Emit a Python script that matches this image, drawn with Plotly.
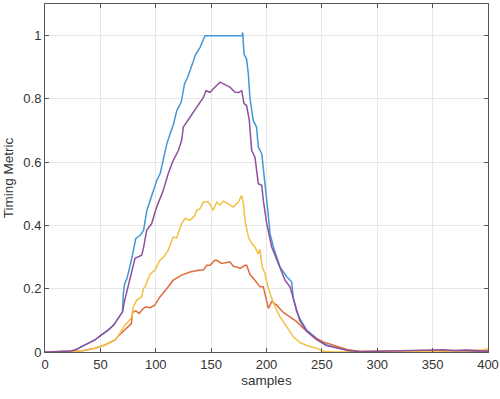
import plotly.graph_objects as go

# ---- data ----
blue_x = [0, 18, 22, 27, 36, 45, 51, 57, 62, 65, 68, 70, 70.7, 72, 74, 78, 82, 86, 89, 92, 95, 98, 101, 104, 107,
          110, 113, 116, 119, 123, 126, 129, 132, 136, 140, 142, 144.5, 150, 160, 170, 178, 178.5, 179.7, 182,
          183.6, 185, 188, 191, 192.6, 195.7, 198.6, 200.2, 201.7, 203.2, 206.2, 209.2, 212.2, 218.2, 222.7,
          224.2, 227, 230.2, 236.3, 245.3, 254.3, 266.4, 275.4, 285, 300, 320, 340, 360, 380, 400]
blue_y = [0, 0, 0.002, 0.006, 0.022, 0.038, 0.054, 0.069, 0.085, 0.101, 0.117, 0.127, 0.185, 0.217, 0.232,
          0.29, 0.359, 0.369, 0.385, 0.448, 0.48, 0.511, 0.543, 0.564, 0.616, 0.658, 0.69, 0.72, 0.763, 0.79,
          0.848, 0.87, 0.9, 0.94, 0.963, 0.98, 1.0, 1.0, 1.0, 1.0, 1.0, 1.01, 0.942, 0.926, 0.879, 0.805, 0.732,
          0.711, 0.648, 0.627, 0.543, 0.48, 0.43, 0.374, 0.332, 0.3, 0.269, 0.238, 0.222, 0.17, 0.13, 0.105,
          0.069, 0.043, 0.022, 0.012, 0.004, 0.001, 0.002, 0.001, 0.003, 0.004, 0.003, 0.002]

purple_x = [0, 18, 22, 27, 36, 45, 51, 57, 62, 65, 68, 70, 72, 76.7, 81.3, 87.3, 89, 91.8, 96.3, 100.8, 106.8,
            111.3, 115.8, 120.4, 123.4, 124.9, 130.9, 137, 143, 145.4, 149, 152, 155, 158, 162.5, 167, 171.6,
            174.6, 177.6, 179.7, 182, 184.5, 186.6, 189.6, 192.6, 195.7, 197.1, 200.2, 204.7, 210.7, 216.7,
            221.2, 224.2, 230, 236, 245, 254, 266, 275, 285, 300, 320, 340, 350, 360, 370, 380, 390, 400]
purple_y = [0, 0, 0.002, 0.006, 0.022, 0.038, 0.054, 0.069, 0.085, 0.101, 0.117, 0.127, 0.164, 0.227, 0.296,
            0.306, 0.33, 0.385, 0.406, 0.458, 0.511, 0.564, 0.606, 0.637, 0.669, 0.711, 0.742, 0.774, 0.805,
            0.826, 0.821, 0.832, 0.842, 0.853, 0.845, 0.837, 0.821, 0.82, 0.826, 0.785, 0.779, 0.732, 0.637,
            0.616, 0.532, 0.527, 0.48, 0.406, 0.332, 0.28, 0.227, 0.206, 0.17, 0.1, 0.066, 0.04, 0.02, 0.01,
            0.004, 0.001, 0.002, 0.002, 0.003, 0.006, 0.007, 0.005, 0.006, 0.003, 0.002]

yellow_x = [0, 22, 27, 35, 45, 54.2, 63.2, 66, 69.2, 72.2, 75.2, 78.3, 79.8, 82.8, 87.3, 88.8, 90.3, 94.8, 99.3,
            103.8, 107, 111.3, 115.8, 118.9, 123.4, 126.4, 130.9, 135.4, 137, 140, 143, 147.5, 150, 152, 155,
            158, 161, 165.5, 170, 174.6, 177.6, 179.1, 180.6, 183.6, 186.6, 189.6, 192.6, 194, 196, 198.6,
            200.2, 203.2, 207.7, 212.2, 218.2, 224.2, 230.2, 237, 245.3, 251, 260, 280, 300, 320, 340, 360,
            380, 395, 400]
yellow_y = [0, 0, 0.002, 0.005, 0.012, 0.022, 0.038, 0.05, 0.069, 0.085, 0.096, 0.111, 0.143, 0.164, 0.174,
            0.2, 0.206, 0.245, 0.259, 0.29, 0.3, 0.322, 0.364, 0.36, 0.406, 0.422, 0.416, 0.432, 0.448, 0.453,
            0.474, 0.474, 0.46, 0.448, 0.474, 0.464, 0.477, 0.469, 0.458, 0.474, 0.495, 0.469, 0.416, 0.364,
            0.343, 0.332, 0.31, 0.325, 0.27, 0.248, 0.222, 0.185, 0.143, 0.111, 0.08, 0.048, 0.03, 0.02, 0.012,
            0.002, 0, 0.001, 0.001, 0.002, 0.001, 0.002, 0.003, 0.006, 0.01]

red_x = [0, 22, 27, 35, 45, 54.2, 63.2, 66, 69.2, 72, 75.2, 78, 79, 82, 85, 88, 91, 95, 99, 103.8, 109.9, 115.8,
         123.4, 130.9, 140, 143, 146, 149, 153.5, 155, 159.5, 165.5, 167, 170, 173.1, 176.1, 180.6, 182.1,
         185.1, 189.6, 194.1, 197.1, 198.6, 201.7, 204.7, 209.2, 215.2, 221.2, 227.3, 233.2, 242.3, 251.3,
         263.4, 272.4, 285, 300, 320, 340, 360, 380, 400]
red_y = [0, 0, 0.002, 0.005, 0.012, 0.022, 0.038, 0.05, 0.06, 0.07, 0.08, 0.09, 0.125, 0.13, 0.122, 0.135,
         0.143, 0.14, 0.148, 0.174, 0.2, 0.227, 0.243, 0.253, 0.259, 0.259, 0.274, 0.274, 0.29, 0.29, 0.28,
         0.285, 0.285, 0.271, 0.269, 0.264, 0.274, 0.274, 0.245, 0.227, 0.206, 0.206, 0.18, 0.138, 0.159,
         0.148, 0.125, 0.111, 0.096, 0.075, 0.048, 0.032, 0.017, 0.008, 0.002, 0.001, 0.002, 0.004, 0.005,
         0.004, 0.003]

x_ticks = [0, 50, 100, 150, 200, 250, 300, 350, 400]
y_ticks = [0, 0.2, 0.4, 0.6, 0.8, 1]
y_tick_text = ["0", "0.2", "0.4", "0.6", "0.8", "1"]

series = [
    (blue_x, blue_y, "#4596d4"),
    (red_x, red_y, "#e06c3c"),
    (yellow_x, yellow_y, "#f1c044"),
    (purple_x, purple_y, "#90509e"),
]

fig = go.Figure()
for xs, ys, col in series:
    fig.add_trace(go.Scatter(x=xs, y=ys, mode="lines", line=dict(color=col, width=1.5),
                             showlegend=False, hoverinfo="skip"))

FONT = "Liberation Sans, Arial, Helvetica, sans-serif"
axis_common = dict(showline=True, linecolor="#555555", linewidth=1, mirror="ticks",
                   ticks="inside", ticklen=4, tickcolor="#555555", tickwidth=1,
                   showgrid=True, gridcolor="#e8e8e8", gridwidth=1, zeroline=False,
                   tickfont=dict(family=FONT, size=13, color="#333333"))

fig.update_xaxes(range=[0, 400], tickvals=x_ticks,
                 title=dict(text="samples", font=dict(family=FONT, size=13.5, color="#333333"), standoff=4),
                 **axis_common)
fig.update_yaxes(range=[0, 1.1], tickvals=y_ticks, ticktext=y_tick_text,
                 title=dict(text="Timing Metric", font=dict(family=FONT, size=13.5, color="#333333"), standoff=6),
                 **axis_common)

fig.update_layout(width=500, height=399, margin=dict(l=45, r=12, t=4, b=47, autoexpand=False),
                  paper_bgcolor="white", plot_bgcolor="white")

fig.write_html("out.html", config={"displayModeBar": False, "staticPlot": True},
               post_script="document.body.style.margin='0';document.body.style.overflow='hidden';")
